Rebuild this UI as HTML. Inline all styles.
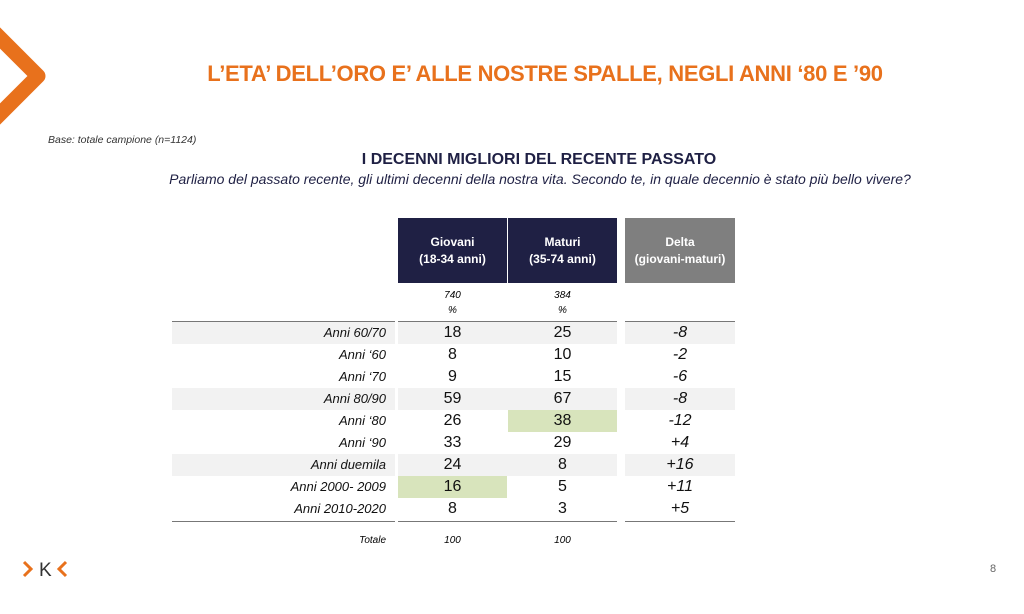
<!DOCTYPE html>
<html><head><meta charset="utf-8"><style>
body{margin:0;width:1024px;height:614px;background:#fff;position:relative;overflow:hidden;font-family:"Liberation Sans",Arial,sans-serif}
.a{position:absolute}
.t{font-size:22px;font-weight:bold;color:#e8711c;left:0;width:1090px;text-align:center;top:61px;letter-spacing:-0.3px}
.row{position:absolute;height:22px;line-height:22px;font-size:16px;color:#111}
.lab{position:absolute;width:214px;left:172px;text-align:right;font-style:italic;font-size:13px}
.c1,.c2,.c3{position:absolute;text-align:center;width:109px}
.c1{left:398px}.c2{left:508px}.c3{left:625px;width:110px;font-style:italic}
.sh{position:absolute;height:22px;background:#f2f2f2}
.g{position:absolute;height:22px;background:#d8e4bc;width:109px}
.hd{position:absolute;top:218px;height:65px;color:#fff;font-weight:bold;font-size:12px;text-align:center;line-height:17px;box-sizing:border-box;padding-top:16px}
.ln{position:absolute;height:1px;background:#777}
</style></head><body>
<svg class="a" style="left:0;top:0" width="60" height="140"><polyline points="-8,30 38,76 -8,122" fill="none" stroke="#e8711c" stroke-width="15" stroke-linejoin="round"/></svg>
<div class="a t">L’ETA’ DELL’ORO E’ ALLE NOSTRE SPALLE, NEGLI ANNI ‘80 E ’90</div>
<div class="a" style="left:48px;top:134px;font-size:10.5px;font-style:italic;color:#333">Base: totale campione (n=1124)</div>
<div class="a" style="left:0;width:1078px;text-align:center;top:151px;font-size:16px;font-weight:bold;color:#1f2044">I DECENNI MIGLIORI DEL RECENTE PASSATO</div>
<div class="a" style="left:0;width:1080px;text-align:center;top:171px;font-size:14px;font-style:italic;color:#1f2044">Parliamo del passato recente, gli ultimi decenni della nostra vita. Secondo te, in quale decennio è stato più bello vivere?</div>
<div class="hd" style="left:398px;width:109px;background:#1f2044">Giovani<br>(18-34 anni)</div>
<div class="hd" style="left:508px;width:109px;background:#1f2044">Maturi<br>(35-74 anni)</div>
<div class="hd" style="left:625px;width:110px;background:#7f7f7f">Delta<br>(giovani-maturi)</div>
<div class="a" style="left:398px;width:109px;top:288px;text-align:center;font-size:10px;font-style:italic;line-height:15px">740<br>%</div>
<div class="a" style="left:508px;width:109px;top:288px;text-align:center;font-size:10px;font-style:italic;line-height:15px">384<br>%</div>
<div class="sh" style="left:172px;width:223px;top:322px"></div><div class="sh" style="left:398px;width:219px;top:322px"></div><div class="sh" style="left:625px;width:110px;top:322px"></div>
<div class="sh" style="left:172px;width:223px;top:388px"></div><div class="sh" style="left:398px;width:219px;top:388px"></div><div class="sh" style="left:625px;width:110px;top:388px"></div>
<div class="sh" style="left:172px;width:223px;top:454px"></div><div class="sh" style="left:398px;width:219px;top:454px"></div><div class="sh" style="left:625px;width:110px;top:454px"></div>
<div class="g" style="left:508px;top:410px"></div>
<div class="g" style="left:398px;top:476px"></div>
<div class="ln" style="left:172px;width:223px;top:321px"></div><div class="ln" style="left:398px;width:219px;top:321px"></div><div class="ln" style="left:625px;width:110px;top:321px"></div>
<div class="ln" style="left:172px;width:223px;top:521px"></div><div class="ln" style="left:398px;width:219px;top:521px"></div><div class="ln" style="left:625px;width:110px;top:521px"></div>
<div class="row" style="top:322px;left:0;width:1024px"><span class="lab">Anni 60/70</span><span class="c1">18</span><span class="c2">25</span><span class="c3">-8</span></div>
<div class="row" style="top:344px;left:0;width:1024px"><span class="lab">Anni ‘60</span><span class="c1">8</span><span class="c2">10</span><span class="c3">-2</span></div>
<div class="row" style="top:366px;left:0;width:1024px"><span class="lab">Anni ‘70</span><span class="c1">9</span><span class="c2">15</span><span class="c3">-6</span></div>
<div class="row" style="top:388px;left:0;width:1024px"><span class="lab">Anni 80/90</span><span class="c1">59</span><span class="c2">67</span><span class="c3">-8</span></div>
<div class="row" style="top:410px;left:0;width:1024px"><span class="lab">Anni ‘80</span><span class="c1">26</span><span class="c2">38</span><span class="c3">-12</span></div>
<div class="row" style="top:432px;left:0;width:1024px"><span class="lab">Anni ‘90</span><span class="c1">33</span><span class="c2">29</span><span class="c3">+4</span></div>
<div class="row" style="top:454px;left:0;width:1024px"><span class="lab">Anni duemila</span><span class="c1">24</span><span class="c2">8</span><span class="c3">+16</span></div>
<div class="row" style="top:476px;left:0;width:1024px"><span class="lab">Anni 2000- 2009</span><span class="c1">16</span><span class="c2">5</span><span class="c3">+11</span></div>
<div class="row" style="top:498px;left:0;width:1024px"><span class="lab">Anni 2010-2020</span><span class="c1">8</span><span class="c2">3</span><span class="c3">+5</span></div>
<div class="a" style="left:172px;width:214px;text-align:right;top:535px;font-size:10px;font-style:italic">Totale</div>
<div class="a" style="left:398px;width:109px;text-align:center;top:535px;font-size:10px;font-style:italic">100</div>
<div class="a" style="left:508px;width:109px;text-align:center;top:535px;font-size:10px;font-style:italic">100</div>
<svg class="a" style="left:20px;top:558px" width="52" height="22"><polyline points="4,4 11,11 4,18" fill="none" stroke="#e8711c" stroke-width="3"/><text x="19" y="18" font-family="Liberation Sans" font-size="19" fill="#333">K</text><polyline points="46,4 39,11 46,18" fill="none" stroke="#e8711c" stroke-width="3"/></svg>
<div class="a" style="left:990px;top:563px;font-size:11px;color:#666">8</div>
</body></html>
